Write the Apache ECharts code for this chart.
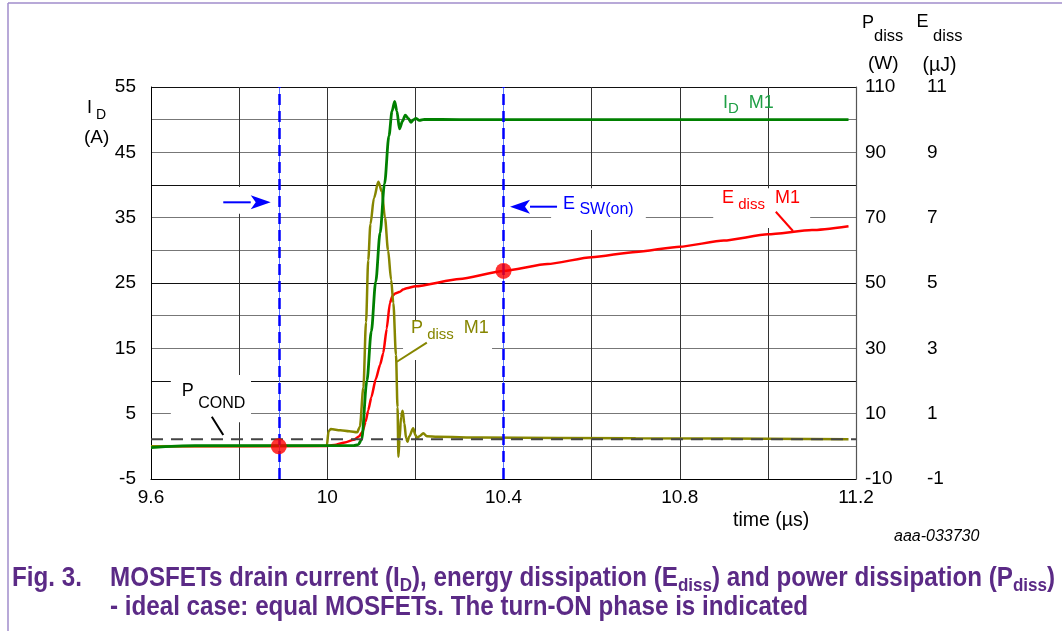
<!DOCTYPE html>
<html><head><meta charset="utf-8">
<script src="https://cdn.jsdelivr.net/npm/echarts@6/dist/echarts.min.js"></script>
<style>html,body{margin:0;padding:0;background:#fff}#c{width:1062px;height:631px}</style>
</head><body><div id="c"></div>
<script>
const FONT = '"Liberation Sans", Arial, sans-serif';

// ---------- DATA ----------
const idTime  = [9.6, 9.7, 10.0, 10.06, 10.07, 10.078, 10.09, 10.10, 10.11, 10.12, 10.13, 10.14, 10.147, 10.153, 10.158, 10.164, 10.171, 10.177, 10.184, 10.190, 10.196, 10.201, 10.209, 10.22, 10.3, 11.183];
const idValue = [-0.2, 0.1, 0.1, 0.1, 0.25, 1.0, 10.0, 17.6, 25.2, 32.7, 40.2, 47.5, 51.3, 52.8, 51.3, 48.6, 49.8, 50.7, 50.2, 49.6, 50.0, 50.2, 49.9, 50.05, 50.0, 50.0];

const pTime  = [9.6, 9.999, 10.003, 10.008, 10.03, 10.05, 10.068, 10.074, 10.082, 10.088, 10.093, 10.098, 10.106, 10.116, 10.124, 10.131, 10.138, 10.145, 10.150, 10.156, 10.1595, 10.1615, 10.164, 10.1675, 10.171, 10.175, 10.179, 10.182, 10.186, 10.195, 10.200, 10.204, 10.210, 10.218, 10.226, 10.25, 10.35, 10.7, 11.183];
const pValue = [0, 0.2, 4.6, 5.3, 4.9, 4.6, 4.3, 6, 18, 38, 57, 68, 76, 81, 78, 70, 60, 51, 43.8, 28, 12, -3.2, 2, 9, 10.9, 7, 2.5, 1.4, 3, 5.5, 3.5, 2.5, 3.2, 4.0, 3.1, 2.9, 2.7, 2.45, 2.2];

const eTime  = [9.6, 10.0, 10.02, 10.04, 10.06, 10.072, 10.08, 10.087, 10.093, 10.10, 10.11, 10.12, 10.127, 10.135, 10.142, 10.148, 10.154, 10.165, 10.172, 10.18, 10.2, 10.3, 10.4, 10.5, 10.6, 10.7, 10.8, 10.9, 11.0, 11.1, 11.183];
const eValue = [0, 0.01, 0.05, 0.12, 0.2, 0.3, 0.45, 0.75, 1.1, 1.5, 2.05, 2.5, 2.85, 3.6, 4.38, 4.6, 4.68, 4.73, 4.8, 4.84, 4.9, 5.12, 5.37, 5.58, 5.79, 5.95, 6.11, 6.3, 6.49, 6.62, 6.74];

const pCondTime  = [9.6, 11.2];
const pCondValue = [2.2, 2.2];

const markerTime   = [9.89, 10.4];
const markerEnergy = [0, 5.37];
const turnOnBounds = [9.89, 10.4];

const xTicks  = [9.6, 10, 10.4, 10.8, 11.2];
const idTicks = [-5, 5, 15, 25, 35, 45, 55];
const pTicks  = [-10, 10, 30, 50, 70, 90, 110];
const eTicks  = [-1, 1, 3, 5, 7, 9, 11];

// ---------- HELPERS ----------
const zip = (a, b) => a.map((v, i) => [v, b[i]]);
const fmt = v => String(parseFloat(v.toFixed(2)));
const showIf = list => v => list.some(a => Math.abs(a - v) < 1e-6) ? fmt(v) : '';

const C_GREEN = '#008000', C_GREEN_T = '#1f9f45', C_OLIVE = '#868600', C_RED = '#ff0000', C_BLUE = '#0000ff', C_PURPLE = '#5b2a86';

const axisLabelBase = { color: '#000', fontSize: 19, fontFamily: FONT };

const option = {
  animation: false,
  backgroundColor: '#fff',
  grid: { left: 151, right: 206, top: 87, bottom: 152, containLabel: false },
  xAxis: {
    type: 'value', min: 9.6, max: 11.2, interval: 0.2,
    axisLine: { show: true, onZero: false, lineStyle: { color: '#000', width: 1 } },
    axisTick: { show: false },
    axisLabel: Object.assign({ formatter: showIf(xTicks), margin: 9, showMinLabel: true, showMaxLabel: true }, axisLabelBase),
    splitLine: { show: true, lineStyle: { color: '#333', width: 1 } }
  },
  yAxis: [
    { type: 'value', position: 'left', min: -5, max: 55, interval: 5,
      axisLine: { show: true, onZero: false, lineStyle: { color: '#000', width: 1 } },
      axisTick: { show: false },
      axisLabel: Object.assign({ formatter: showIf(idTicks), margin: 15, padding: [5, 0, 0, 0] }, axisLabelBase),
      splitLine: { show: true, lineStyle: { color: ['#111', '#777', '#777'], width: 1.2 } } },
    { type: 'value', position: 'right', min: -10, max: 110, interval: 10,
      axisLine: { show: true, onZero: false, lineStyle: { color: '#555', width: 1.2 } },
      axisTick: { show: false },
      axisLabel: Object.assign({ formatter: showIf(pTicks), margin: 9 }, axisLabelBase),
      splitLine: { show: false } },
    { type: 'value', position: 'right', offset: 62, min: -1, max: 11, interval: 1,
      axisLine: { show: false, onZero: false },
      axisTick: { show: false },
      axisLabel: Object.assign({ formatter: showIf(eTicks), margin: 9 }, axisLabelBase),
      splitLine: { show: false } }
  ],
  series: [
    { name: 'Ediss M1', type: 'line', yAxisIndex: 2, data: zip(eTime, eValue), showSymbol: false, smooth: 0.2, smoothMonotone: 'x',
      lineStyle: { color: C_RED, width: 2.5 }, z: 2 },
    { name: 'Pdiss M1', type: 'line', yAxisIndex: 1, data: zip(pTime, pValue), showSymbol: false, smooth: 0.3, smoothMonotone: 'x',
      lineStyle: { color: C_OLIVE, width: 2.5 }, z: 3 },
    { name: 'ID M1', type: 'line', yAxisIndex: 0, data: zip(idTime, idValue), showSymbol: false, smooth: 0.3, smoothMonotone: 'x',
      lineStyle: { color: C_GREEN, width: 2.8 }, z: 4,
      markLine: { silent: true, symbol: ['none', 'none'], label: { show: false }, animation: false,
        data: [
          { xAxis: turnOnBounds[0], lineStyle: { color: '#5a78ff', width: 1, type: 'solid' } },
          { xAxis: turnOnBounds[0], lineStyle: { color: C_BLUE, width: 2.5, type: [11, 6] } },
          { xAxis: turnOnBounds[1], lineStyle: { color: '#5a78ff', width: 1, type: 'solid' } },
          { xAxis: turnOnBounds[1], lineStyle: { color: C_BLUE, width: 2.5, type: [11, 6] } }
        ] } },
    { name: 'PCOND', type: 'line', yAxisIndex: 1, data: zip(pCondTime, pCondValue), showSymbol: false,
      lineStyle: { color: '#444', width: 2, type: [12, 8] }, z: 5 },
    { name: 'markers', type: 'scatter', yAxisIndex: 2, data: zip(markerTime, markerEnergy), symbolSize: 16,
      itemStyle: { color: C_RED }, z: 6 }
  ]
};

const chart = echarts.init(document.getElementById('c'), null, { renderer: 'canvas' });
chart.setOption(option);

// ---------- ANNOTATIONS ----------
const px = t => chart.convertToPixel({ xAxisIndex: 0 }, t);
const py = v => chart.convertToPixel({ yAxisIndex: 0 }, v);
const ctx = document.createElement('canvas').getContext('2d');
function tw(t, s, w, st) { ctx.font = `${st || 'normal'} ${w || 'normal'} ${s}px ${FONT}`; return ctx.measureText(t).width; }
function pieces(x, y, parts, color, z) {
  const out = []; let cx = x;
  parts.forEach(p => {
    out.push({ type: 'text', x: cx, y: y + (p.dy || 0), z: z || 10, silent: true,
      style: { text: p.t, fill: p.c || color, fontSize: p.s, fontFamily: FONT, fontWeight: p.w || 'normal', fontStyle: p.st || 'normal', align: 'left', verticalAlign: 'middle' } });
    cx += tw(p.t, p.s, p.w, p.st);
  });
  return out;
}
function widthOf(parts) { return parts.reduce((a, p) => a + tw(p.t, p.s, p.w, p.st), 0); }
function bgRect(t0, v0, t1, v1) {
  const x0 = px(t0), x1 = px(t1), y0 = py(v0), y1 = py(v1);
  return { type: 'rect', z: 1, silent: true, shape: { x: Math.min(x0, x1), y: Math.min(y0, y1), width: Math.abs(x1 - x0), height: Math.abs(y1 - y0) }, style: { fill: '#fff' } };
}
function leader(t0, v0, t1, v1, color) {
  return { type: 'line', z: 10, silent: true, shape: { x1: px(t0), y1: py(v0), x2: px(t1), y2: py(v1) }, style: { stroke: color, lineWidth: 2 } };
}
function arrow(tTail, tTip, v, color) {
  const xt = px(tTail), xp = px(tTip), y = py(v), dir = xp > xt ? 1 : -1, hl = 20, hh = 7;
  return [
    { type: 'line', z: 10, silent: true, shape: { x1: xt, y1: y, x2: xp - dir * hl, y2: y }, style: { stroke: color, lineWidth: 2 } },
    { type: 'polygon', z: 10, silent: true, shape: { points: [[xp, y], [xp - dir * hl, y - hh], [xp - dir * (hl - 5), y], [xp - dir * hl, y + hh]] }, style: { fill: color } }
  ];
}

const g = [];
// frame
g.push({ type: 'line', z: 0, silent: true, shape: { x1: 8, y1: 3, x2: 1062, y2: 3 }, style: { stroke: '#a08ccb', lineWidth: 1.5 } });
g.push({ type: 'line', z: 0, silent: true, shape: { x1: 8, y1: 3, x2: 8, y2: 631 }, style: { stroke: '#a08ccb', lineWidth: 1.5 } });

// white label backgrounds
g.push(bgRect(10.876, 39.5, 11.096, 33.4));   // E diss M1
g.push(bgRect(10.508, 39.5, 10.723, 33.1));   // E SW(on)
g.push(bgRect(9.745, 39.7, 9.877, 35.6));     // left arrow
g.push(bgRect(9.645, 10.9, 9.827, 3.7));      // P COND
g.push(bgRect(10.172, 19.3, 10.374, 13.2));   // P diss M1

// series labels
g.push(...pieces(px(10.898), py(52.5), [{ t: 'I', s: 18 }, { t: 'D', s: 15, dy: 6 }, { t: '  M1', s: 18 }], C_GREEN_T));
g.push(...pieces(px(10.896), py(37.97), [{ t: 'E', s: 18 }, { t: ' diss', s: 15, dy: 6.3 }, { t: '  M1', s: 18 }], C_RED));
g.push(leader(11.018, 35.9, 11.057, 32.96, C_RED));
g.push(...pieces(px(10.535), py(37.14), [{ t: 'E', s: 18 }, { t: ' SW(on)', s: 16, dy: 6.4 }], C_BLUE));
g.push(...arrow(10.5215, 10.4148, 36.68, C_BLUE));
g.push(...arrow(9.764, 9.8717, 37.35, C_BLUE));
g.push(...pieces(px(9.670), py(8.4), [{ t: 'P', s: 18 }, { t: ' COND', s: 16, dy: 12 }], '#000'));
g.push(leader(9.738, 4.54, 9.764, 1.73, '#000'));
g.push(...pieces(px(10.190), py(18.05), [{ t: 'P', s: 18 }, { t: ' diss', s: 15, dy: 6.3 }, { t: '  M1', s: 18 }], C_OLIVE));
g.push(leader(10.226, 15.86, 10.158, 12.95, C_OLIVE));

// axis titles
g.push(...pieces(87, 108.5, [{ t: 'I', s: 18 }, { t: ' D', s: 14, dy: 6.3 }], '#000'));
g.push(...pieces(84, 138, [{ t: '(A)', s: 19 }], '#000'));
g.push(...pieces(862, 23.5, [{ t: 'P', s: 18 }, { t: 'diss', s: 16.5, dy: 13 }], '#000'));
g.push(...pieces(868, 64, [{ t: '(W)', s: 19 }], '#000'));
g.push(...pieces(916.5, 22.5, [{ t: 'E', s: 18 }, { t: ' diss', s: 16.5, dy: 14 }], '#000'));
g.push(...pieces(922.5, 65.5, [{ t: '(µJ)', s: 19.5 }], '#000'));
g.push(...pieces(733, 521, [{ t: 'time (µs)', s: 19.5 }], '#000'));
g.push(...pieces(894, 537, [{ t: 'aaa-033730', s: 16, st: 'italic' }], '#000'));

// caption
const capMain = 27, capSub = 19, capDy = 7;
const line1 = [
  { t: 'MOSFETs drain current (I', s: capMain, w: 'bold' }, { t: 'D', s: capSub, w: 'bold', dy: capDy },
  { t: '), energy dissipation (E', s: capMain, w: 'bold' }, { t: 'diss', s: capSub, w: 'bold', dy: capDy },
  { t: ') and power dissipation (P', s: capMain, w: 'bold' }, { t: 'diss', s: capSub, w: 'bold', dy: capDy },
  { t: ')', s: capMain, w: 'bold' }
];
const line2 = [{ t: '- ideal case: equal MOSFETs. The turn-ON phase is indicated', s: capMain, w: 'bold' }];
const figLbl = [{ t: 'Fig. 3.', s: capMain, w: 'bold' }];
const sx = (1055 - 110) / widthOf(line1);
g.push({ type: 'group', x: 12, y: 579, scaleX: sx, children: pieces(0, 0, figLbl, C_PURPLE) });
g.push({ type: 'group', x: 110, y: 579, scaleX: sx, children: pieces(0, 0, line1, C_PURPLE) });
g.push({ type: 'group', x: 110, y: 608, scaleX: sx, children: pieces(0, 0, line2, C_PURPLE) });

chart.setOption({ graphic: g });
</script>
</body></html>
